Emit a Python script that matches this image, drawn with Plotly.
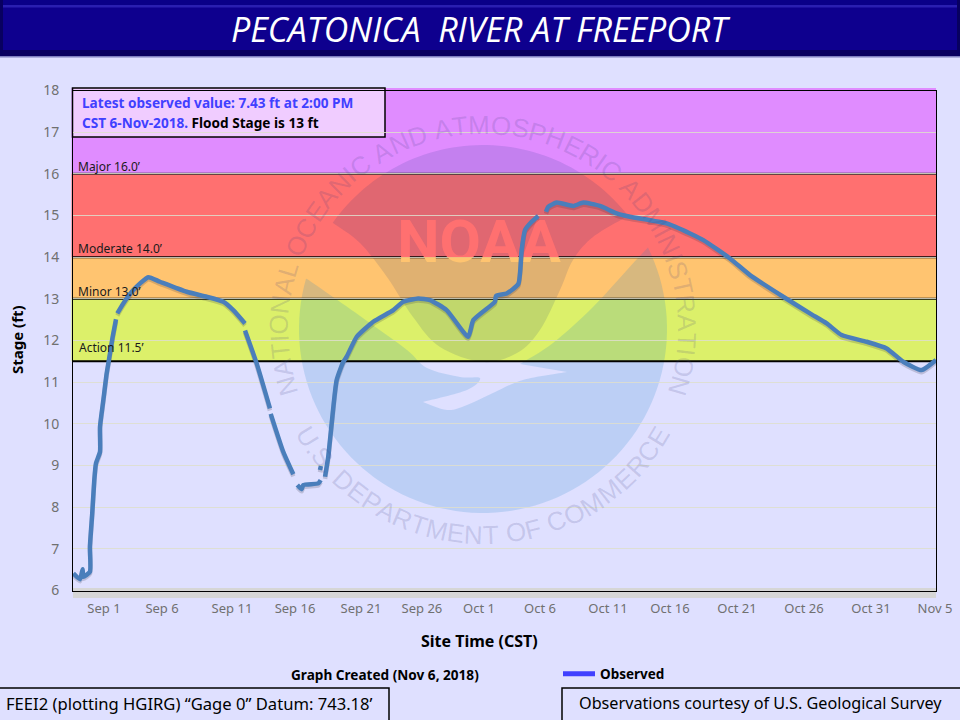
import numpy as np
import plotly.graph_objects as go

# ---- data (days since Sep 1, stage in ft; None = gap in the record)
days = [-2.40,-1.88,-1.67,-1.62,-1.10,-1.10,-0.92,-0.76,-0.63,-0.31,-0.31,-0.05,0.21,0.47,0.68,0.94,None,
        1.04,1.51,2.29,3.46,4.38,6.47,8.03,9.33,10.11,11.03,None,
        11.03,11.94,12.98,None,
        13.04,14.02,14.81,None,
        15.12,15.46,15.59,16.76,16.95,None,
        16.89,16.97,None,
        17.29,17.54,17.81,18.20,18.72,18.98,19.77,21.06,22.63,23.41,24.58,25.50,26.80,28.49,28.89,30.58,30.66,31.50,32.41,32.67,32.93,33.45,33.97,None,
        34.57,34.75,35.41,36.71,37.49,38.80,40.10,41.14,44.01,45.84,46.88,48.96,50.53,53.13,55.22,56.53,57.70,59.66,61.22,62.52,63.96,65.08]
stage = [6.41,6.27,6.51,6.33,6.45,7.05,7.85,8.65,9.05,9.33,9.93,10.57,11.21,11.69,12.09,12.51,None,
         12.65,12.89,13.21,13.52,13.41,13.17,13.05,12.93,12.73,12.41,None,
         12.24,11.45,10.37,None,
         10.24,9.33,8.79,None,
         8.53,8.43,8.53,8.57,8.65,None,
         8.89,8.99,None,
         8.73,9.21,10.01,11.05,11.49,11.61,12.09,12.45,12.73,12.93,13.01,12.97,12.73,12.09,12.49,12.93,13.07,13.13,13.36,14.17,14.65,14.85,14.99,None,
         15.09,15.21,15.31,15.23,15.31,15.23,15.05,14.97,14.81,14.57,14.41,13.97,13.57,13.05,12.65,12.41,12.13,11.97,11.81,11.49,11.29,11.53]
tick_days = [0,4.54,10.01,14.94,20.10,24.87,29.33,34.10,39.42,44.27,49.51,54.75,59.99,65.0]
tick_text = ["Sep 1","Sep 6","Sep 11","Sep 16","Sep 21","Sep 26","Oct 1","Oct 6","Oct 11","Oct 16","Oct 21","Oct 26","Oct 31","Nov 5"]
band_levels = [18,16,14,13,11.5]
band_colors = ["#e08cff","#ff7070","#ffc470","#dcf06a"]
band_names = ["Major 16.0’","Moderate 14.0’","Minor 13.0’","Action 11.5’"]

W,H = 960,720
BG = "#dfe0ff"
L,R,T,B = 73,936,90.5,590.5
def X(p): return p/W
def Y(p): return 1-p/H
XR = [-2.425,65.08]
YR = [6,18]
FONT = "Noto Sans"

def catmull(pts):
    pts = [(X(a),Y(b)) for a,b in pts]
    p = list(pts)
    s = []
    for i in range(len(p)-1):
        p0 = p[i-1] if i>0 else p[i]
        p1,p2 = p[i],p[i+1]
        p3 = p[i+2] if i+2<len(p) else p[i+1]
        c1 = (p1[0]+(p2[0]-p0[0])/6, p1[1]+(p2[1]-p0[1])/6)
        c2 = (p2[0]-(p3[0]-p1[0])/6, p2[1]-(p3[1]-p1[1])/6)
        s.append(f"C{c1[0]:.5f},{c1[1]:.5f} {c2[0]:.5f},{c2[1]:.5f} {p2[0]:.5f},{p2[1]:.5f}")
    return " ".join(s)

cx,cy,rad = 483,329,184
def arc(a0,a1,n=60):
    t = np.radians(np.linspace(a0,a1,n))
    return [(cx+rad*np.sin(v), cy-rad*np.cos(v)) for v in t]
def polyL(pts):
    return " ".join(f"L{X(a):.5f},{Y(b):.5f}" for a,b in pts)

shapes = []
def rect(x0,y0,x1,y1,fill,line=None,lw=0):
    shapes.append(dict(type="rect",xref="paper",yref="paper",x0=X(x0),x1=X(x1),y0=Y(y0),y1=Y(y1),
                       fillcolor=fill,line=dict(color=line or "rgba(0,0,0,0)",width=lw),layer="below"))

# title bar
rect(0,0,960,57,"#0e008e")
rect(0,0,960,5,"#0a0088")
rect(3,5,957,7.5,"#2a1fb0")
rect(0,50,960,56,"#0a0060")
rect(0,56,960,57.5,"#7f7fc0")
rect(0,0,3,56,"#080060")
rect(957,0,960,56,"#080060")

# flood bands
rect(71.5,88,R,T,band_colors[0])
for i,c in enumerate(band_colors):
    shapes.append(dict(type="rect",xref="paper",yref="y",x0=X(71.5),x1=X(R),y0=band_levels[i+1],y1=band_levels[i],
                       fillcolor=c,line=dict(width=0),layer="below"))
rect(L,588,R,598,"#d6d6d6")

# NOAA emblem
dark_edge = [(628,216),(593,237),(573,260),(560,290),(540,330),(517,353),(483,362),(440,347),(413,317),(387,277),(360,243),(333,223)]
a_start = np.degrees(np.arctan2(333-cx,cy-223))
a_end = np.degrees(np.arctan2(628-cx,cy-216))
top_arc = arc(a_start,a_end)
d = f"M{X(top_arc[0][0]):.5f},{Y(top_arc[0][1]):.5f} "+polyL(top_arc[1:])+" L%.5f,%.5f "%(X(628),Y(216))+catmull(dark_edge)+" Z"
shapes.append(dict(type="path",xref="paper",yref="paper",path=d,fillcolor="rgba(0,40,120,0.12)",line=dict(width=0),layer="below"))

blue_right = [(647,248),(627,270),(593,307),(553,343),(520,364)]
gull_low = [(567,372),(523,380),(493,393),(467,405),(447,410),(423,402)]
gull_top = [(423,402),(467,390),(480,378),(460,377),(427,368),(407,350),(370,323),(333,297),(307,279)]
a0 = np.degrees(np.arctan2(647-cx,cy-248))
a1 = 360+np.degrees(np.arctan2(307-cx,cy-279))
bot_arc = arc(a0,a1,90)
d = f"M{X(bot_arc[-1][0]):.5f},{Y(bot_arc[-1][1]):.5f} "+polyL(list(reversed(bot_arc))[1:])+" "+catmull(blue_right)+" "+polyL([(567,372)])+" "+catmull(gull_low)+" "+catmull(gull_top)+" Z"
shapes.append(dict(type="path",xref="paper",yref="paper",path=d,fillcolor="rgba(28,132,200,0.175)",line=dict(width=0),layer="below"))

# stage thresholds
for lv,col,w in [(16,"#333333",2),(14,"black",2),(13,"black",2),(11.5,"black",2)]:
    shapes.append(dict(type="line",xref="paper",yref="y",x0=X(72),x1=X(R),y0=lv,y1=lv,line=dict(color=col,width=w),layer="below"))

# boxes
rect(72.5,88,385,137,"#f0ccff","black",1.5)
rect(-2,688,389,722,BG,"black",1.5)
rect(562,688,962,722,BG,"black",1.5)

ann = []
def text(x,y,t,size,color="black",anchor="left",bold=False,angle=0,font=FONT,italic=False):
    ann.append(dict(xref="paper",yref="paper",x=X(x),y=Y(y),text=t,showarrow=False,xanchor=anchor,yanchor="middle",
                    textangle=angle,font=dict(family=font,size=size,color=color,weight=700 if bold else 400,
                                              style="italic" if italic else "normal")))

text(480,29,"PECATONICA  RIVER AT FREEPORT",34,"white","center",italic=True,font="Open Sans")
text(80,103,"Latest observed value: 7.43 ft at 2:00 PM",13.6,"#4040ff",bold=True)
text(80,122,'<span style="color:#4040ff">CST 6-Nov-2018.</span> Flood Stage is 13 ft',13.6,"black",bold=True)
for n,(px,py) in zip(band_names,[(76,166),(76,248),(76,291),(77,347)]):
    text(px,py,n,12,"#1a1a1a")
text(17,340,"Stage (ft)",15,"black","center",bold=True,angle=-90)
text(479,641,"Site Time (CST)",16,"black","center",bold=True)
text(385,674,"Graph Created (Nov 6, 2018)",13.6,"black","center",bold=True)
text(4,703,"FEEI2 (plotting HGIRG) “Gage 0” Datum: 743.18’",16.6)
text(577,703,"Observations courtesy of U.S. Geological Survey",16.2)

cw = {"A":.667,"B":.667,"C":.722,"D":.722,"E":.667,"F":.611,"G":.778,"H":.722,"I":.278,"L":.556,"M":.833,"N":.722,
      "O":.778,"P":.667,"R":.722,"S":.667,"T":.611,"U":.722," ":.278,".":.278}
def ring(s,a0,a1,r,upper=True):
    w = np.array([cw[c] for c in s])
    edges = np.concatenate([[0],np.cumsum(w)])
    mids = (edges[:-1]+edges[1:])/2/edges[-1]
    for ch,m in zip(s,mids):
        if ch==" ":continue
        a = a0+(a1-a0)*m
        t = np.radians(a)
        if upper:
            px,py,ang = cx+r*np.sin(t), cy-r*np.cos(t), a
        else:
            px,py,ang = cx+r*np.sin(t), cy+r*np.cos(t), -a
        text(px,py,ch,26,"rgba(60,60,130,0.17)","center",angle=float(ang),font="Liberation Sans")
ring("NATIONAL OCEANIC AND ATMOSPHERIC ADMINISTRATION",-109,109,204,True)
ring("U.S. DEPARTMENT OF COMMERCE",-61,61,206,False)

fig = go.Figure()
DX = [X(L),X(R)]
lv14 = Y(T+(18-14)*(B-T)/12)
noaa_y = 18-(247-T)*12/(B-T)
noaa_x = XR[0]+(479-L)/(R-L)*(XR[1]-XR[0])
base = dict(x=[noaa_x],y=[noaa_y],mode="text",text=["NOAA"],textposition="middle center",cliponaxis=True,
            showlegend=False,hoverinfo="skip")
fig.add_trace(go.Scatter(x=[None],y=[None],mode="lines",name="Observed",line=dict(color="#4040ff",width=5),xaxis="x",yaxis="y"))
fig.add_trace(go.Scatter(**base,textfont=dict(family="Roboto",size=60,color="#ff7070",weight=700),xaxis="x2",yaxis="y2"))
fig.add_trace(go.Scatter(**base,textfont=dict(family="Roboto",size=60,color="#ffc470",weight=700),xaxis="x3",yaxis="y3"))
shadow = [None if v is None else v-0.05 for v in stage]
fig.add_trace(go.Scatter(x=days,y=shadow,mode="lines",line=dict(color="rgba(50,50,70,0.2)",width=4.5,shape="spline",smoothing=0.5),showlegend=False,hoverinfo="skip",xaxis="x4",yaxis="y4"))
fig.add_trace(go.Scatter(x=days,y=stage,mode="lines",line=dict(color="#4a7ebb",width=4.5,shape="spline",smoothing=0.5),showlegend=False,xaxis="x4",yaxis="y4"))

hidden = dict(visible=False,fixedrange=True)
fig.update_layout(
    autosize=False,width=W,height=H,margin=dict(l=0,r=0,t=0,b=0,pad=0,autoexpand=False),paper_bgcolor=BG,plot_bgcolor="rgba(0,0,0,0)",
    font=dict(family=FONT),shapes=shapes,annotations=ann,
    xaxis=dict(domain=DX,range=XR,tickmode="array",tickvals=tick_days,ticktext=tick_text,showgrid=False,zeroline=False,
               showline=True,linecolor="black",linewidth=1,mirror=True,ticks="outside",ticklen=6,tickcolor="rgba(0,0,0,0)",
               tickfont=dict(family=FONT,size=13,color="#707070"),tickangle=0,fixedrange=True),
    yaxis=dict(domain=[Y(B),Y(T)],range=YR,dtick=1,showgrid=True,gridcolor="rgba(222,222,205,0.85)",gridwidth=1,zeroline=False,
               showline=True,linecolor="black",linewidth=1,mirror=True,ticks="outside",ticklen=10,tickcolor="rgba(0,0,0,0)",
               tickfont=dict(family=FONT,size=14,color="#707070"),fixedrange=True),
    xaxis2=dict(domain=DX,range=XR,anchor="y2",**hidden),
    yaxis2=dict(domain=[lv14,Y(T)],range=[14,18],anchor="x2",**hidden),
    xaxis3=dict(domain=DX,range=XR,anchor="y3",**hidden),
    yaxis3=dict(domain=[Y(B),lv14],range=[6,14],anchor="x3",**hidden),
    xaxis4=dict(domain=DX,range=XR,anchor="y4",**hidden),
    yaxis4=dict(domain=[Y(B),Y(T)],range=YR,anchor="x4",**hidden),
    showlegend=True,
    legend=dict(x=X(558),y=Y(674),xanchor="left",yanchor="middle",bgcolor="rgba(0,0,0,0)",borderwidth=0,
                font=dict(family=FONT,size=13.5,color="black",weight=700),itemwidth=32),
)
fig.write_html("out.html",config=dict(displayModeBar=False,responsive=False),post_script="document.body.style.margin='0';")
